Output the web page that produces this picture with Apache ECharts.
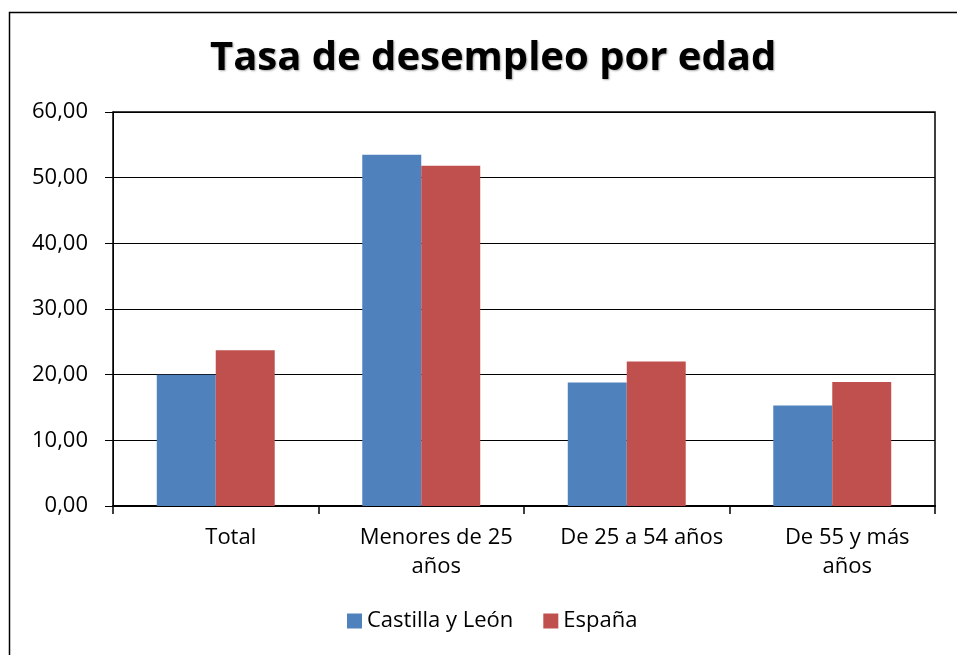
<!DOCTYPE html>
<html>
<head>
<meta charset="utf-8">
<script src="https://cdn.jsdelivr.net/npm/echarts@6/dist/echarts.min.js"></script>
<style>html,body{margin:0;padding:0;background:#fff}#c{width:957px;height:655px}</style>
</head>
<body>
<div id="c"></div>
<script>
const titleText = 'Tasa de desempleo por edad';
const categories = ['Total', 'Menores de 25 años', 'De 25 a 54 años', 'De 55 y más años'];
const categoryLabels = ['Total', 'Menores de 25\naños', 'De 25 a 54 años', 'De 55 y más\naños'];
const seriesNames = ['Castilla y León', 'España'];
const castillaLeon = [20.0, 53.5, 18.8, 15.3];
const espana = [23.7, 51.8, 22.0, 18.9];
const yTicks = [0, 10, 20, 30, 40, 50, 60];

const FONT = 'Open Sans';
const chart = echarts.init(document.getElementById('c'), null, {renderer: 'canvas'});
chart.setOption({
  animation: false,
  backgroundColor: '#fff',
  textStyle: {fontFamily: FONT},
  graphic: [{
    type: 'rect', silent: true, z: -1,
    shape: {x: 9.5, y: 12.5, width: 1000, height: 700},
    style: {fill: 'none', stroke: '#000', lineWidth: 1.5}
  }],
  title: {
    text: titleText, left: 205, top: 34,
    textStyle: {fontFamily: FONT, fontWeight: 'bold', fontSize: 40, color: '#000',
      textShadowColor: 'rgba(0,0,0,0.35)', textShadowBlur: 2, textShadowOffsetX: 1, textShadowOffsetY: 1}
  },
  legend: {
    data: seriesNames, left: 342, top: 605, itemWidth: 15, itemHeight: 15, itemGap: 30,
    icon: 'rect',
    textStyle: {fontFamily: FONT, fontSize: 22, color: '#000', padding: [0,0,0,0]}
  },
  grid: {left: 113, right: 22, top: 112, bottom: 149, show: true, borderColor: '#000', borderWidth: 1.5},
  xAxis: {
    type: 'category', data: categories,
    axisLine: {lineStyle: {color: '#000', width: 2}},
    axisTick: {show: true, length: 8, interval: 0, lineStyle: {color: '#000', width: 1.5}},
    axisLabel: {
      interval: 0,
      fontFamily: FONT, fontSize: 22, color: '#000', margin: 17, lineHeight: 29,
      padding: [0, 0, 0, 30],
      formatter: (v, i) => categoryLabels[i]
    }
  },
  yAxis: {
    type: 'value', min: yTicks[0], max: yTicks[yTicks.length - 1], interval: 10,
    axisLine: {show: true, lineStyle: {color: '#000', width: 1}},
    axisTick: {show: true, length: 8, lineStyle: {color: '#000'}},
    splitLine: {lineStyle: {color: '#000', width: 1}},
    axisLabel: {
      fontFamily: FONT, fontSize: 22, color: '#000', margin: 25,
      formatter: v => v.toFixed(2).replace('.', ',')
    }
  },
  series: [
    {name: seriesNames[0], type: 'bar', data: castillaLeon, barGap: '0%', barCategoryGap: '42.6%',
     itemStyle: {color: '#4F81BD'}},
    {name: seriesNames[1], type: 'bar', data: espana,
     itemStyle: {color: '#C0504D'}}
  ]
});
</script>
</body>
</html>
